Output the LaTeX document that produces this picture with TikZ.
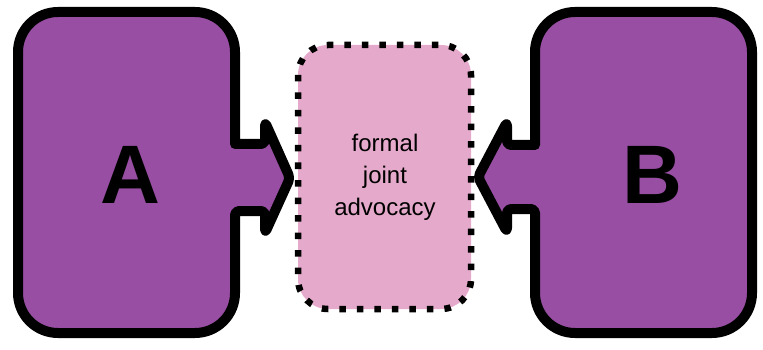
\documentclass[tikz,border=0pt]{standalone}
\usepackage{fontspec}
\setmainfont{Liberation Sans}
\definecolor{boxpurple}{HTML}{984EA3}
\definecolor{boxpink}{HTML}{E5AACB}
\begin{document}
\begin{tikzpicture}[x=1pt,y=-1pt,
  party/.style={fill=boxpurple,draw=black,line width=10pt,line join=round},
  shared/.style={fill=boxpink,draw=black,line width=6.5pt,dash pattern=on 6.5pt off 11pt,rounded corners=30pt},
  bigletter/.style={font=\fontsize{83}{83}\bfseries\selectfont,inner sep=0pt},
  midtext/.style={font=\fontsize{24}{32}\selectfont,align=center,inner sep=0pt}]
\useasboundingbox (0,0) rectangle (763,350);
% left party with arrow
\draw[party] (235,144) [rounded corners=4pt] -- (265,144) -- (265,122) -- (290,178) -- (265,233) -- (265,211) -- (235,211)
  [sharp corners] -- (235,240) [rounded corners=40pt] -- (235,333) -- (18,333) -- (18,12) -- (235,12) [sharp corners] -- (235,110) -- cycle;
% right party with arrow
\draw[party] (535,145) [rounded corners=4pt] -- (507,145) -- (507,122) -- (478,177) -- (507,232) -- (507,209) -- (535,209)
  [sharp corners] -- (535,240) [rounded corners=40pt] -- (535,333) -- (752,333) -- (752,12) -- (535,12) [sharp corners] -- (535,110) -- cycle;
% shared middle box
\draw[shared] (298,45) rectangle (471,309);
\node[bigletter] (a) at (130,175) {A};
\node[bigletter] (b) at (652,175) {B};
\node[midtext] (m) at (385,177) {formal\\joint\\advocacy};
\end{tikzpicture}
\end{document}
